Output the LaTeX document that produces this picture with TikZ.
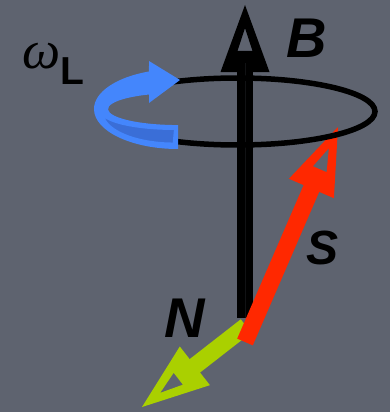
\documentclass[tikz,border=0pt]{standalone}
\usepackage{fontspec}
\usetikzlibrary{calc}
\newfontfamily\lsans{Liberation Sans}
\newfontfamily\lserif{Liberation Serif}
\definecolor{bg}{RGB}{94,99,111}
\definecolor{bluemain}{RGB}{68,134,252}
\definecolor{bluedark}{RGB}{58,110,215}
\definecolor{redarrow}{RGB}{255,40,0}
\definecolor{greenarrow}{RGB}{170,208,0}
\newcommand\keyhead[3]{%
  \coordinate (hb) at ($(#1)!67pt!(#2)$);
  \coordinate (w1) at ($(hb)!24.5pt!90:(#1)$);
  \coordinate (w2) at ($(hb)!24.5pt!-90:(#1)$);
  \coordinate (h1) at ($(#1)!23pt!(#2)$);
  \coordinate (hc) at ($(#1)!46pt!(#2)$);
  \coordinate (h2) at ($(hc)!7.5pt!90:(#1)$);
  \coordinate (h3) at ($(hc)!7.5pt!-90:(#1)$);
  \fill[#3, even odd rule] (#1) -- (w1) -- (w2) -- cycle (h1) -- (h2) -- (h3) -- cycle;}
\tikzset{
  shaft/.style={line width=17pt, line cap=butt},
  lbl/.style={inner sep=0pt, font=\lsans\bfseries\itshape\fontsize{56}{60}\selectfont},
}
\begin{document}
\begin{tikzpicture}[x=1pt,y=-1pt]
\fill[bg] (0,0) rectangle (390,412);
\useasboundingbox (0,0) rectangle (390,412);
% coordinates
\coordinate (btip) at (245,5);
\coordinate (bbot) at (245,318);
\coordinate (stail) at (245,342);
\coordinate (stip) at (338,127);
\coordinate (ntail) at (246,326);
\coordinate (ntip) at (142,407);
% vertical B axis
\draw[line width=16pt, line cap=butt, black] (bbot) -- ($(btip)!55pt!(bbot)$);
\keyhead{btip}{bbot}{black}
\draw[line width=1pt, black!82!bg] (bbot) -- ($(btip)!58pt!(bbot)$);
% green N
\draw[shaft, greenarrow] (ntail) -- ($(ntip)!50pt!(ntail)$);
\keyhead{ntip}{ntail}{greenarrow}
% red S
\draw[shaft, redarrow] (stail) -- ($(stip)!50pt!(stail)$);
\keyhead{stip}{stail}{redarrow}
% precession ellipse
\draw[line width=5.5pt, black] (237.5,111.5) ellipse[x radius=137.5, y radius=33.5];
% blue rotation arrow
\fill[bluemain] (178,149) arc[start angle=90, end angle=249.8, x radius=84, y radius=40]
  -- (149,61) -- (180,80) -- (149,103) -- (149,94.5)
  arc[start angle=245.5, end angle=90, x radius=70, y radius=16] -- cycle;
\filldraw[fill=bluedark, draw=bluemain, line width=2pt]
  (175,129) arc[start angle=90, end angle=180, x radius=73, y radius=17]
  -- (104.5,119.5) arc[start angle=167, end angle=90, x radius=71, y radius=31] -- cycle;
% labels
\node[lbl] (B) at (307,38) {B};
\node[lbl, font=\lsans\bfseries\itshape\fontsize{48}{52}\selectfont] (S) at (323,248) {S};
\node[lbl] (N) at (185,318) {N};
\node[inner sep=0pt, font=\lserif\itshape\fontsize{54}{58}\selectfont] (w) at (42,56) {ω};
\node[inner sep=0pt, font=\lsans\bfseries\fontsize{39}{42}\selectfont] (L) at (72,71) {L};
\end{tikzpicture}
\end{document}
